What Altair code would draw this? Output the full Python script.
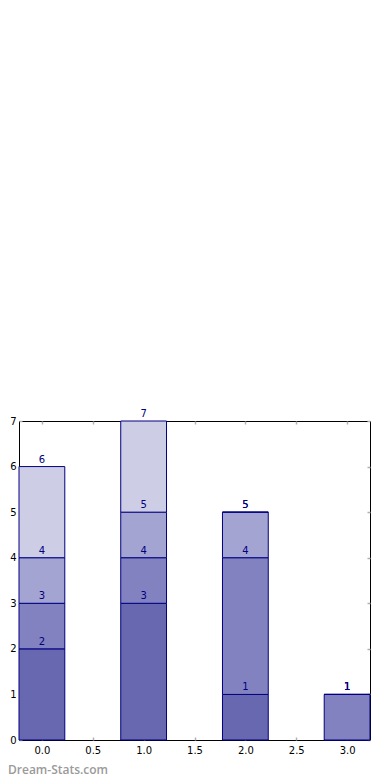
import altair as alt
import pandas as pd

# ---- data ----
positions = [0, 1, 2, 3]
layer_names = ["layer 1", "layer 2", "layer 3", "layer 4"]
layer1 = [2, 3, 1, 0]
layer2 = [1, 1, 3, 1]
layer3 = [1, 1, 1, 0]
layer4 = [2, 2, 0, 0]
layer_colors = ["#6868b0", "#8282c0", "#a4a4d2", "#cdcde5"]
x_ticks = [0.0, 0.5, 1.0, 1.5, 2.0, 2.5, 3.0]
y_ticks = [0, 1, 2, 3, 4, 5, 6, 7]
watermark = ["Dream-Stats.com"]

bar_half = 0.225
edge = "#000080"
font = "DejaVu Sans"

rows = []
for i, p in enumerate(positions):
    base = 0
    for name, vals in zip(layer_names, [layer1, layer2, layer3, layer4]):
        top = base + vals[i]
        rows.append({"pos": p, "x0": p - bar_half, "x1": p + bar_half,
                     "layer": name, "y0": base, "y1": top})
        base = top
df = pd.DataFrame(rows)

xs = alt.Scale(domain=[-0.225, 3.225], nice=False, zero=False)
ys = alt.Scale(domain=[0, 7], nice=False, zero=False)

W, H = 351, 319

base = alt.Chart(df)

bars = base.mark_rect(stroke=edge, strokeWidth=1).encode(
    x=alt.X("x0:Q", scale=xs, title=None,
            axis=alt.Axis(orient="bottom", values=x_ticks, format=".1f", ticks=False,
                          domain=False, grid=False, labelPadding=5, labelFont=font,
                          labelFontSize=10, labelColor="#000000")),
    x2="x1:Q",
    y=alt.Y("y0:Q", scale=ys, title=None,
            axis=alt.Axis(orient="left", values=y_ticks, format="d", ticks=False,
                          domain=False, grid=False, labelPadding=3, labelFont=font,
                          labelFontSize=10, labelColor="#000000")),
    y2="y1:Q",
    color=alt.Color("layer:N", scale=alt.Scale(domain=layer_names, range=layer_colors),
                    legend=None),
)

labels = base.transform_filter("datum.y1 > 0").mark_text(
    baseline="alphabetic", dy=-4, fontSize=10, font=font, color=edge
).encode(
    x=alt.X("pos:Q", scale=xs, axis=None),
    y=alt.Y("y1:Q", scale=ys, axis=None),
    text=alt.Text("y1:Q", format="d"),
)

tick_style = dict(labels=False, domain=False, grid=False, ticks=True,
                  tickSize=3, tickColor="#b0b0b0", tickWidth=1.5, title=None)


def x_tick_layer(orient):
    return base.mark_point(opacity=0).encode(
        x=alt.X("pos:Q", scale=xs,
                axis=alt.Axis(orient=orient, values=x_ticks, offset=-3, **tick_style))
    )


def y_tick_layer(orient):
    return base.mark_point(opacity=0).encode(
        y=alt.Y("y1:Q", scale=ys,
                axis=alt.Axis(orient=orient, values=y_ticks, offset=-3, **tick_style))
    )


wm = alt.Chart(pd.DataFrame({"t": watermark})).mark_text(
    align="left", baseline="alphabetic", fontSize=12, fontWeight=600,
    font="Open Sans", color="#9a9a9a"
).encode(
    text="t:N",
    x=alt.value(-11),
    y=alt.value(H + 34),
)

chart = alt.layer(
    bars, labels,
    x_tick_layer("bottom"), x_tick_layer("top"),
    y_tick_layer("left"), y_tick_layer("right"),
    wm,
).resolve_axis(x="independent", y="independent").properties(
    width=W, height=H,
    background="white",
    autosize=alt.AutoSizeParams(type="none"),
    padding={"left": 11, "top": 413, "right": 10, "bottom": 40},
).configure_view(stroke="#000000", strokeWidth=1)

chart.save("out.html", embed_options={"renderer": "svg", "actions": False})
